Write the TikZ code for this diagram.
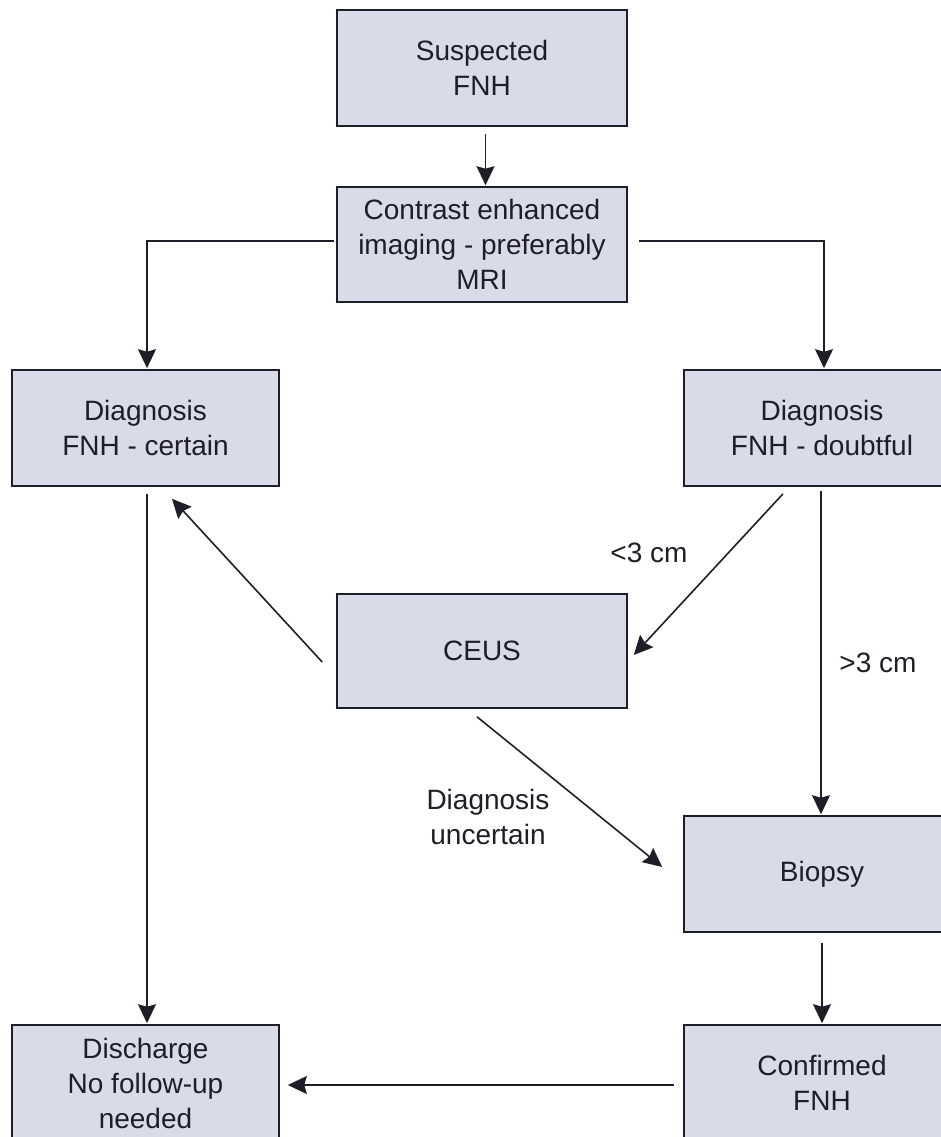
\documentclass[tikz,border=0pt]{standalone}
\usepackage{fontspec}
\setmainfont{Liberation Sans}
\usetikzlibrary{arrows.meta}
\definecolor{boxfill}{RGB}{216,219,232}
\definecolor{ink}{RGB}{30,30,40}
\begin{document}
\begin{tikzpicture}[x=1pt,y=-1pt,
  box/.style={draw=ink, line width=1.6pt, fill=boxfill, text=ink, inner sep=0pt,
    align=center, font=\fontsize{28}{35}\selectfont},
  lbl/.style={text=ink, inner sep=0pt, align=center, font=\fontsize{28}{35}\selectfont},
  arr/.style={draw=ink, line width=1.6pt, -{Stealth[length=19pt,width=18pt,inset=2.5pt]}}]
\useasboundingbox (0,0) rectangle (941,1137);
\clip (0,0) rectangle (941,1137);
\node[box, minimum width=290pt, minimum height=116pt] (sus) at (482,68) {Suspected\\FNH};
\node[box, minimum width=290pt, minimum height=115pt] (cei) at (482,244.5) {Contrast enhanced\\imaging - preferably\\MRI};
\node[box, minimum width=267pt, minimum height=116pt] (cert) at (145.5,428) {Diagnosis\\FNH - certain};
\node[box, minimum width=276pt, minimum height=116pt] (doubt) at (822,428) {Diagnosis\\FNH - doubtful};
\node[box, minimum width=290pt, minimum height=114pt] (ceus) at (482,651) {CEUS};
\node[box, minimum width=276pt, minimum height=116pt] (biopsy) at (822,874) {Biopsy};
\node[box, minimum width=267pt, minimum height=116pt] (disch) at (145.5,1083) {Discharge\\No follow-up\\needed};
\node[box, minimum width=276pt, minimum height=116pt] (conf) at (822,1083) {Confirmed\\FNH};
\node[lbl] (lsmall) at (649,553) {<3 cm};
\node[lbl] (lbig) at (878,663) {>3 cm};
\node[lbl] (lunc) at (488,817) {Diagnosis\\uncertain};
% connectors
\draw[arr] ([xshift=3.5pt,yshift=-7pt]sus.south) -- ([xshift=3.5pt,yshift=1pt]cei.north);
\draw[arr] ([xshift=-2pt,yshift=3.5pt]cei.west) -| ([xshift=1.5pt,yshift=1pt]cert.north);
\draw[arr] ([xshift=11pt,yshift=3.5pt]cei.east) -| ([xshift=2pt,yshift=1pt]doubt.north);
\draw[arr] ([xshift=1.5pt,yshift=-7pt]cert.south) -- ([xshift=1.5pt,yshift=1pt]disch.north);
\draw[arr] ([xshift=-1pt,yshift=-4pt]doubt.south) -- ([xshift=-1pt,yshift=1pt]biopsy.north);
\draw[arr] ([xshift=-39pt,yshift=-7pt]doubt.south) -- ([xshift=6pt,yshift=-4pt]ceus.east);
\draw[arr] ([xshift=-14pt,yshift=-11pt]ceus.west) -- ([xshift=26.5pt,yshift=-12pt]cert.south);
\draw[arr] ([xshift=-5pt,yshift=-8pt]ceus.south) -- ([xshift=-21pt,yshift=7pt]biopsy.west);
\draw[arr] ([yshift=-10pt]biopsy.south) -- ([yshift=1pt]conf.north);
\draw[arr] ([xshift=-9pt,yshift=-2pt]conf.west) -- ([xshift=8pt,yshift=-2pt]disch.east);
\end{tikzpicture}
\end{document}
